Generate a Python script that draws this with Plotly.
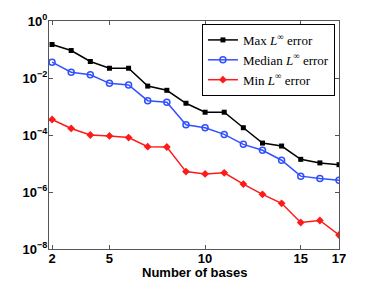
import plotly.graph_objects as go

bases = list(range(2, 18))
max_err = [0.15, 0.092, 0.038, 0.022, 0.022, 0.0052, 0.0037, 0.0013, 0.00063, 0.00063,
           1.8e-4, 5.2e-5, 4.1e-5, 1.4e-5, 1.05e-5, 9.1e-6]
median_err = [0.036, 0.016, 0.013, 0.0065, 0.0057, 0.0016, 0.0014, 2.3e-4, 1.8e-4, 1.05e-4,
              4.7e-5, 2.9e-5, 1.3e-5, 3.6e-6, 3.0e-6, 2.6e-6]
min_err = [3.5e-4, 1.7e-4, 1.0e-4, 9.3e-5, 8.1e-5, 3.9e-5, 3.8e-5, 5.2e-6, 4.3e-6, 4.7e-6,
           1.9e-6, 8.3e-7, 4.0e-7, 8.5e-8, 1.0e-7, 3.1e-8]

x_ticks = [2, 5, 10, 15, 17]
y_tickvals = [1e-8, 1e-6, 1e-4, 1e-2, 1]
y_ticktext = ["10<sup>−8</sup>", "10<sup>−6</sup>", "10<sup>−4</sup>", "10<sup>−2</sup>", "10<sup>0</sup>"]

fig = go.Figure()
fig.add_trace(go.Scatter(x=bases, y=max_err, mode="lines+markers",
                         name="Max <i>L</i><sup>∞</sup> error",
                         line=dict(color="black", width=1.5),
                         marker=dict(symbol="square", size=5, color="black")))
fig.add_trace(go.Scatter(x=bases, y=median_err, mode="lines+markers",
                         name="Median <i>L</i><sup>∞</sup> error",
                         line=dict(color="#3050ff", width=1.5),
                         marker=dict(symbol="circle-open", size=6, color="#3050ff", line=dict(width=1.5))))
fig.add_trace(go.Scatter(x=bases, y=min_err, mode="lines+markers",
                         name="Min <i>L</i><sup>∞</sup> error",
                         line=dict(color="#ff1a1a", width=1.5),
                         marker=dict(symbol="diamond", size=6, color="#ff1a1a")))

tick_font = dict(family="Liberation Sans", size=13, color="black", weight="bold")
axis_common = dict(showline=True, linecolor="#555555", linewidth=1, mirror="ticks",
                   ticks="inside", ticklen=4, tickcolor="#555555", showgrid=False, zeroline=False,
                   tickfont=tick_font, automargin=False)

fig.update_xaxes(range=[1.84, 17], tickvals=x_ticks, ticklabelstandoff=-3, **axis_common)
fig.update_yaxes(type="log", range=[-8, 0], tickvals=y_tickvals, ticktext=y_ticktext,
                 ticklabelstandoff=-2, **axis_common)

fig.add_annotation(text="Number of bases", xref="paper", yref="paper", x=0.5, y=0,
                   yshift=-23, yanchor="middle", showarrow=False,
                   font=dict(family="Liberation Sans", size=13, color="black", weight="bold"))

# page body has an 8px default margin; the figure is sized so the plot lands where the reference has it
fig.update_layout(
    width=366, height=273,
    margin=dict(l=41, r=35, t=13, b=32, autoexpand=False),
    paper_bgcolor="white", plot_bgcolor="white",
    showlegend=True,
    legend=dict(x=0.986, xanchor="right", y=0.987, yanchor="top",
                bgcolor="white", bordercolor="black", borderwidth=1,
                font=dict(family="Liberation Serif, Times New Roman, serif", size=13, color="black"),
                tracegroupgap=0, itemwidth=30),
)

fig.write_html("out.html")
